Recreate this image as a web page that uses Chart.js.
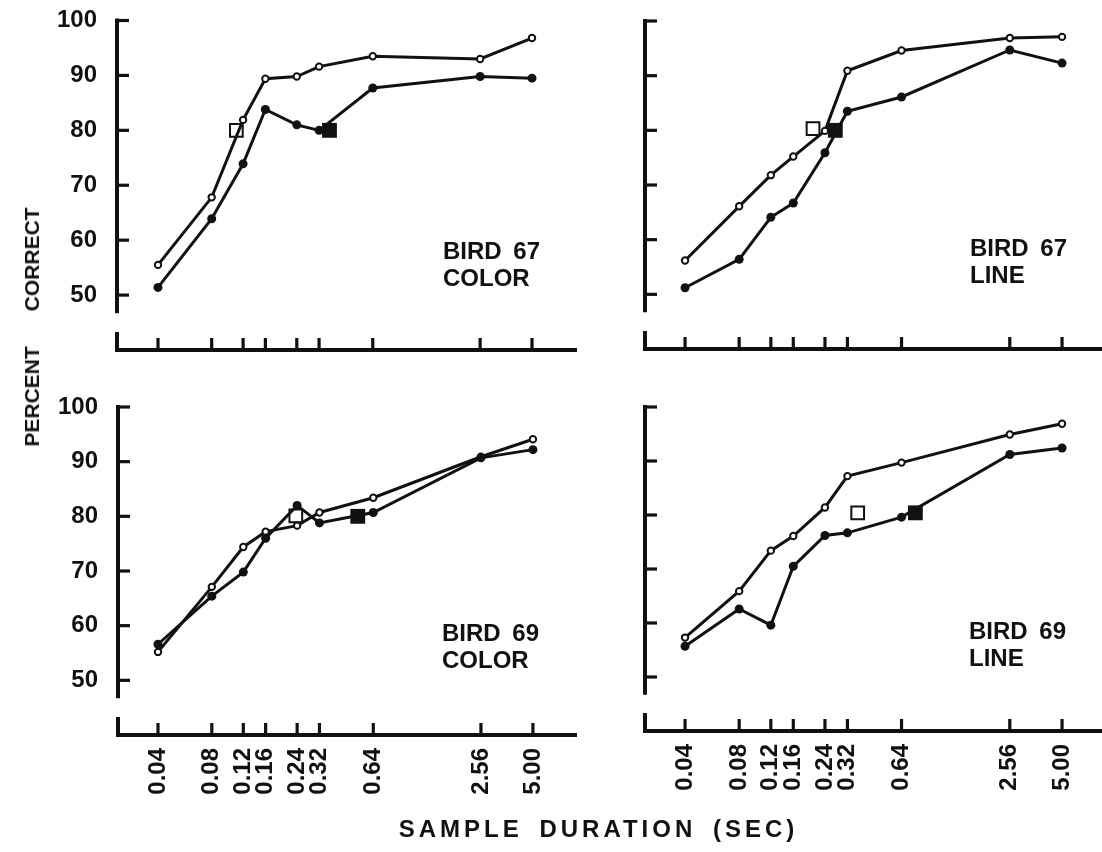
<!DOCTYPE html>
<html>
<head>
<meta charset="utf-8">
<script src="https://cdn.jsdelivr.net/npm/chart.js@4"></script>
<style>
  html, body { margin: 0; padding: 0; background: #fff; }
  #wrap { position: relative; width: 1102px; height: 852px; overflow: hidden; background: #fff; }
  canvas { position: absolute; }
  .lbl { position: absolute; font-family: "Liberation Sans", Arial, sans-serif; font-weight: bold;
         color: #111; font-size: 24px; line-height: 27px; white-space: pre; word-spacing: 5px; }
  #xtitle { position: absolute; left: 0; width: 1102px; top: 815px; text-align: center;
            padding-left: 95px; box-sizing: border-box;
            font-family: "Liberation Sans", Arial, sans-serif; font-weight: bold; font-size: 24px;
            letter-spacing: 4px; word-spacing: 6px; color: #111; white-space: pre; }
  #ytitle { position: absolute; left: 32px; top: 327px; transform: translate(-50%, -50%) rotate(-90deg);
            font-family: "Liberation Sans", Arial, sans-serif; font-weight: bold; font-size: 21px;
            letter-spacing: 0px; color: #111; white-space: pre; }
</style>
</head>
<body>
<div id="wrap">
  <canvas id="c0" width="600" height="385" style="left:0;top:0"></canvas>
  <canvas id="c1" width="502" height="385" style="left:600px;top:0"></canvas>
  <canvas id="c2" width="600" height="467" style="left:0;top:385px"></canvas>
  <canvas id="c3" width="502" height="467" style="left:600px;top:385px"></canvas>
  <div class="lbl" style="left:443px;top:237px">BIRD 67
COLOR</div>
  <div class="lbl" style="left:970px;top:234px">BIRD 67
LINE</div>
  <div class="lbl" style="left:442px;top:619px">BIRD 69
COLOR</div>
  <div class="lbl" style="left:969px;top:617px">BIRD 69
LINE</div>
  <div id="xtitle">SAMPLE DURATION (SEC)</div>
  <div id="ytitle">PERCENT      CORRECT</div>
</div>
<script>
// ---- data ----
const durations   = [0.04, 0.08, 0.12, 0.16, 0.24, 0.32, 0.64, 2.56, 5.00];
const xTickLabels = ['0.04', '0.08', '0.12', '0.16', '0.24', '0.32', '0.64', '2.56', '5.00'];
const yTickValues = [50, 60, 70, 80, 90, 100];

const bird67ColorOpen   = [55.5, 67.8, 81.9, 89.4, 89.8, 91.6, 93.5, 93.0, 96.8];
const bird67ColorFilled = [51.4, 63.9, 73.9, 83.8, 81.0, 80.0, 87.7, 89.8, 89.5];
const bird67LineOpen    = [56.2, 66.1, 71.8, 75.2, 79.9, 90.9, 94.6, 96.9, 97.1];
const bird67LineFilled  = [51.2, 56.4, 64.1, 66.7, 75.9, 83.5, 86.1, 94.7, 92.3];
const bird69ColorOpen   = [55.2, 67.1, 74.4, 77.2, 78.3, 80.7, 83.4, 90.9, 94.1];
const bird69ColorFilled = [56.6, 65.4, 69.8, 76.0, 82.0, 78.8, 80.7, 90.7, 92.2];
const bird69LineOpen    = [57.3, 65.9, 73.4, 76.1, 81.4, 87.2, 89.7, 94.9, 96.9];
const bird69LineFilled  = [55.7, 62.6, 59.6, 70.5, 76.2, 76.7, 79.6, 91.2, 92.4];

// 80% threshold squares (panels: 67 color, 67 line, 69 color, 69 line)
const openSquareX   = [0.110, 0.206, 0.236, 0.365];
const openSquareY   = [80.0, 80.3, 80.1, 80.4];
const filledSquareX = [0.366, 0.274, 0.524, 0.764];
const filledSquareY = [80.0, 80.0, 80.0, 80.4];

// ---- drawing ----
const INK = '#111';
const tickFont = { family: '"Liberation Sans", Arial, sans-serif', weight: 'bold', size: 24 };

const framePlugin = {
  id: 'frame',
  beforeDatasetsDraw(chart) {
    const { ctx, chartArea, scales } = chart;
    const xs = scales.x, ys = scales.y;
    const x0 = chartArea.left, y0 = chartArea.bottom;
    const seg = (a, b, c, d) => { ctx.beginPath(); ctx.moveTo(a, b); ctx.lineTo(c, d); ctx.stroke(); };
    ctx.save();
    ctx.strokeStyle = INK;
    ctx.lineCap = 'butt';
    ctx.lineWidth = 4;
    seg(x0, ys.getPixelForValue(100) - 2, x0, ys.getPixelForValue(46.7));
    ctx.lineWidth = 3.2;
    yTickValues.forEach(v => { const p = ys.getPixelForValue(v); seg(x0, p, x0 + 12, p); });
    ctx.lineWidth = 4;
    seg(x0 - 2, y0, chartArea.right, y0);
    seg(x0, y0 + 2, x0, y0 - 18);
    ctx.lineWidth = 3.2;
    durations.forEach(v => { const p = xs.getPixelForValue(v); seg(p, y0, p, y0 - 12); });
    ctx.restore();
  }
};

function makePanel(id, openVals, filledVals, idx, g) {
  const pts = vals => durations.map((d, i) => ({ x: d, y: vals[i] }));
  new Chart(document.getElementById(id), {
    type: 'line',
    data: {
      datasets: [
        { data: pts(filledVals), borderColor: INK, borderWidth: 3, backgroundColor: INK,
          pointRadius: 4.5, pointBorderWidth: 0, pointBackgroundColor: INK, tension: 0, clip: false },
        { data: pts(openVals), borderColor: INK, borderWidth: 3, backgroundColor: '#fff',
          pointRadius: 3.2, pointBorderWidth: 2, pointBorderColor: INK, pointBackgroundColor: '#fff', tension: 0, clip: false },
        { data: [{ x: openSquareX[idx], y: openSquareY[idx] }], showLine: false, pointStyle: 'rect',
          pointRadius: 9, pointBorderWidth: 2, pointBorderColor: INK, pointBackgroundColor: '#fff', clip: false },
        { data: [{ x: filledSquareX[idx], y: filledSquareY[idx] }], showLine: false, pointStyle: 'rect',
          pointRadius: 10.5, pointBorderWidth: 0, pointBackgroundColor: INK, clip: false }
      ]
    },
    options: {
      responsive: false,
      animation: false,
      devicePixelRatio: 1,
      layout: { autoPadding: false, padding: { top: g.padTop, right: g.padRight, left: 0, bottom: 0 } },
      plugins: { legend: { display: false }, tooltip: { enabled: false }, title: { display: false } },
      scales: {
        x: {
          type: 'logarithmic',
          min: g.xmin, max: g.xmax,
          grid: { display: false, drawTicks: false },
          border: { display: false },
          afterBuildTicks: s => { s.ticks = durations.map(v => ({ value: v })); },
          afterFit: s => { s.height = g.xh; s.paddingLeft = 0; s.paddingRight = 0; },
          ticks: {
            display: g.showX, autoSkip: false, minRotation: 90, maxRotation: 90, padding: 13,
            color: INK, font: tickFont,
            callback: (v, i) => xTickLabels[i]
          }
        },
        y: {
          type: 'linear', min: 40, max: 100,
          grid: { display: false, drawTicks: false },
          border: { display: false },
          afterBuildTicks: s => { s.ticks = yTickValues.map(v => ({ value: v })); },
          afterFit: s => { s.width = g.yw; s.paddingTop = 0; s.paddingBottom = 0; },
          ticks: { display: g.showY, padding: 20, color: INK, font: tickFont, callback: v => String(v) }
        }
      }
    },
    plugins: [framePlugin]
  });
}

makePanel('c0', bird67ColorOpen, bird67ColorFilled, 0,
  { padTop: 20.5, padRight: 23, xh: 35, yw: 117, xmin: 0.02356, xmax: 8.94, showX: false, showY: true });
makePanel('c1', bird67LineOpen, bird67LineFilled, 1,
  { padTop: 21, padRight: 0, xh: 36, yw: 45, xmin: 0.02395, xmax: 8.34, showX: false, showY: false });
makePanel('c2', bird69ColorOpen, bird69ColorFilled, 2,
  { padTop: 22, padRight: 23, xh: 117, yw: 118, xmin: 0.0239, xmax: 8.82, showX: true, showY: true });
makePanel('c3', bird69LineOpen, bird69LineFilled, 3,
  { padTop: 22, padRight: 0, xh: 121, yw: 45, xmin: 0.02395, xmax: 8.34, showX: true, showY: false });
</script>
</body>
</html>
